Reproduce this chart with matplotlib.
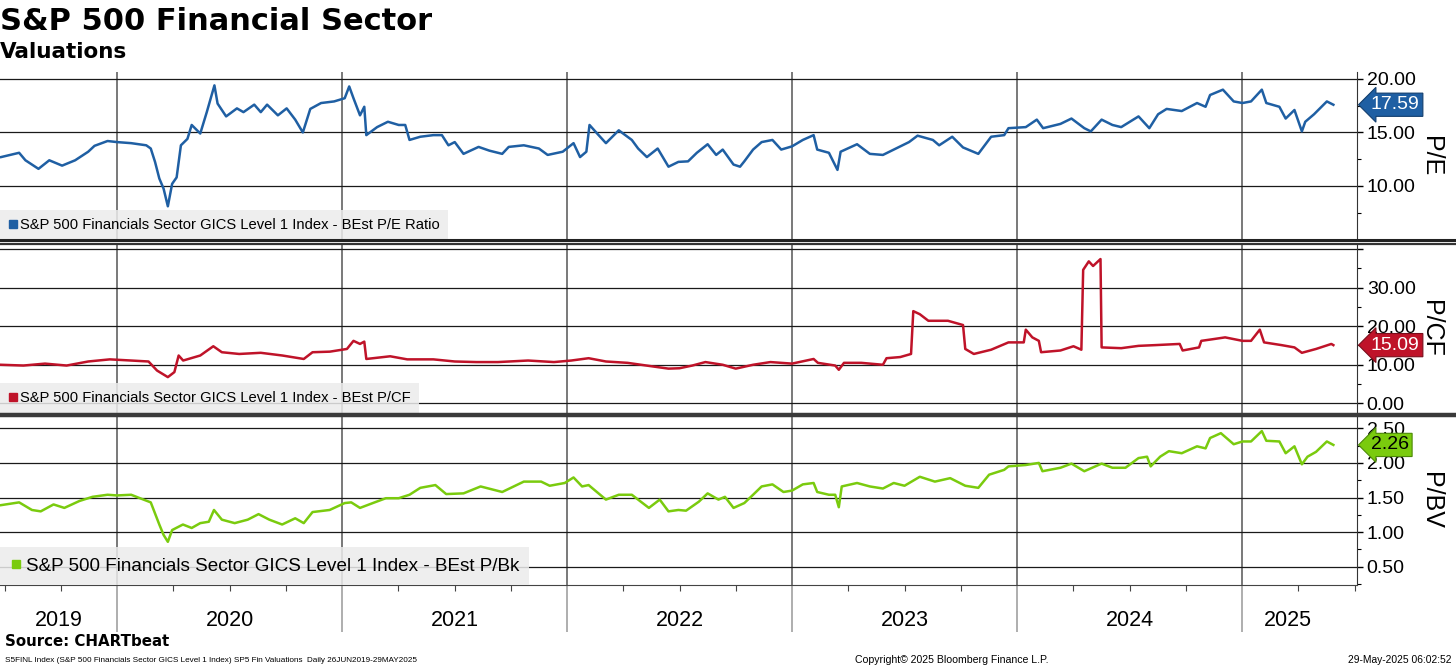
import matplotlib
matplotlib.use('Agg')
import matplotlib.pyplot as plt
import matplotlib.transforms as mtransforms
from matplotlib.lines import Line2D

# Data (decimal years, values)
pe_dates = [2019.485, 2019.565, 2019.593, 2019.651, 2019.699, 2019.756, 2019.814, 2019.872, 2019.900, 2019.958,
            2020.000, 2020.063, 2020.130, 2020.150, 2020.169, 2020.188, 2020.207, 2020.226, 2020.245, 2020.265,
            2020.284, 2020.313, 2020.332, 2020.370, 2020.399, 2020.433, 2020.447, 2020.485, 2020.533, 2020.562,
            2020.610, 2020.639, 2020.667, 2020.715, 2020.754, 2020.792, 2020.826, 2020.859, 2020.907, 2020.965,
            2021.012, 2021.032, 2021.051, 2021.080, 2021.099, 2021.108, 2021.156, 2021.204, 2021.252, 2021.281,
            2021.300, 2021.348, 2021.406, 2021.444, 2021.473, 2021.501, 2021.540, 2021.607, 2021.655, 2021.712,
            2021.741, 2021.808, 2021.875, 2021.914, 2021.981, 2022.029, 2022.058, 2022.086, 2022.100, 2022.134,
            2022.173, 2022.230, 2022.288, 2022.316, 2022.355, 2022.403, 2022.451, 2022.495, 2022.538, 2022.577,
            2022.625, 2022.663, 2022.692, 2022.740, 2022.769, 2022.788, 2022.827, 2022.865, 2022.913, 2022.952,
            2023.000, 2023.048, 2023.096, 2023.112, 2023.164, 2023.202, 2023.216, 2023.289, 2023.346, 2023.404,
            2023.462, 2023.520, 2023.558, 2023.626, 2023.654, 2023.712, 2023.760, 2023.828, 2023.885, 2023.943,
            2023.962, 2024.039, 2024.088, 2024.116, 2024.193, 2024.242, 2024.299, 2024.328, 2024.376, 2024.424,
            2024.463, 2024.540, 2024.588, 2024.627, 2024.665, 2024.732, 2024.800, 2024.838, 2024.858, 2024.915,
            2024.963, 2025.002, 2025.040, 2025.088, 2025.108, 2025.166, 2025.194, 2025.233, 2025.266, 2025.281,
            2025.320, 2025.377, 2025.406]
pe_values = [12.7, 13.1, 12.4, 11.6, 12.4, 11.9, 12.4, 13.2, 13.75, 14.2,
             14.1, 14.0, 13.8, 13.5, 12.25, 10.7, 9.75, 8.1, 10.2, 10.8,
             13.8, 14.4, 15.7, 14.9, 16.9, 19.4, 17.7, 16.5, 17.25, 16.9,
             17.6, 16.9, 17.6, 16.6, 17.25, 16.2, 15.0, 17.2, 17.75, 17.9,
             18.2, 19.3, 18.2, 16.6, 17.4, 14.75, 15.5, 16.0, 15.7, 15.7,
             14.3, 14.6, 14.75, 14.75, 13.8, 14.1, 13.0, 13.65, 13.3, 13.0,
             13.65, 13.8, 13.5, 12.9, 13.2, 14.0, 12.7, 13.2, 15.7, 14.9,
             14.0, 15.2, 14.3, 13.5, 12.7, 13.5, 11.8, 12.25, 12.3, 13.1,
             13.9, 12.9, 13.4, 12.0, 11.8, 12.3, 13.4, 14.1, 14.3, 13.4,
             13.7, 14.3, 14.75, 13.4, 13.1, 11.5, 13.2, 13.9, 13.0, 12.9,
             13.5, 14.1, 14.7, 14.3, 13.8, 14.6, 13.6, 13.0, 14.6, 14.75,
             15.4, 15.5, 16.2, 15.4, 15.8, 16.3, 15.4, 15.1, 16.2, 15.7,
             15.5, 16.5, 15.4, 16.7, 17.2, 17.0, 17.75, 17.4, 18.5, 19.0,
             17.9, 17.75, 17.9, 19.0, 17.75, 17.4, 16.3, 17.1, 15.1, 16.0,
             16.7, 17.9, 17.59]

pcf_dates = [2019.485, 2019.584, 2019.680, 2019.776, 2019.872, 2019.968, 2020.063, 2020.140, 2020.178, 2020.226,
             2020.255, 2020.274, 2020.294, 2020.370, 2020.428, 2020.466, 2020.543, 2020.639, 2020.735, 2020.830,
             2020.869, 2020.946, 2021.022, 2021.051, 2021.080, 2021.099, 2021.108, 2021.214, 2021.290, 2021.406,
             2021.501, 2021.597, 2021.693, 2021.827, 2021.942, 2022.019, 2022.096, 2022.173, 2022.269, 2022.365,
             2022.451, 2022.500, 2022.557, 2022.615, 2022.692, 2022.750, 2022.827, 2022.904, 2023.000, 2023.096,
             2023.115, 2023.192, 2023.208, 2023.231, 2023.308, 2023.404, 2023.420, 2023.481, 2023.529, 2023.539,
             2023.568, 2023.606, 2023.693, 2023.760, 2023.770, 2023.808, 2023.885, 2023.962, 2024.030, 2024.039,
             2024.068, 2024.097, 2024.107, 2024.193, 2024.251, 2024.286, 2024.294, 2024.319, 2024.338, 2024.371,
             2024.376, 2024.463, 2024.540, 2024.617, 2024.723, 2024.736, 2024.809, 2024.819, 2024.867, 2024.925,
             2025.002, 2025.040, 2025.079, 2025.098, 2025.175, 2025.233, 2025.266, 2025.329, 2025.397, 2025.406]
pcf_values = [10.0, 9.8, 10.3, 9.8, 10.85, 11.4, 11.1, 10.85, 8.5, 6.8,
              8.1, 12.4, 11.1, 12.4, 14.8, 13.25, 12.8, 13.1, 12.4, 11.5,
              13.25, 13.4, 14.1, 16.2, 15.4, 16.0, 11.5, 12.2, 11.4, 11.4,
              10.85, 10.7, 10.7, 11.1, 10.7, 11.1, 11.7, 10.85, 10.5, 9.7,
              9.0, 9.1, 9.8, 10.7, 10.0, 9.0, 10.0, 10.7, 10.3, 11.5,
              10.5, 9.8, 8.7, 10.5, 10.5, 10.0, 11.7, 12.0, 12.8, 23.9,
              23.1, 21.4, 21.4, 20.3, 14.1, 12.8, 13.9, 15.8, 15.8, 19.1,
              17.1, 16.2, 13.25, 13.7, 14.8, 13.9, 34.6, 36.8, 35.6, 37.4,
              14.5, 14.3, 14.9, 15.1, 15.4, 13.7, 14.5, 16.2, 16.6, 17.1,
              16.2, 16.2, 19.1, 15.8, 15.1, 14.5, 13.1, 14.1, 15.4, 15.09]

pb_dates = [2019.485, 2019.565, 2019.622, 2019.661, 2019.718, 2019.766, 2019.833, 2019.891, 2019.958, 2020.000,
            2020.063, 2020.102, 2020.150, 2020.169, 2020.188, 2020.207, 2020.226, 2020.245, 2020.293, 2020.332,
            2020.370, 2020.408, 2020.431, 2020.466, 2020.523, 2020.581, 2020.629, 2020.677, 2020.734, 2020.792,
            2020.830, 2020.869, 2020.945, 2021.012, 2021.041, 2021.080, 2021.137, 2021.195, 2021.252, 2021.300,
            2021.348, 2021.415, 2021.463, 2021.540, 2021.616, 2021.712, 2021.808, 2021.885, 2021.923, 2021.990,
            2022.029, 2022.067, 2022.096, 2022.173, 2022.230, 2022.288, 2022.364, 2022.412, 2022.451, 2022.495,
            2022.529, 2022.586, 2022.625, 2022.673, 2022.702, 2022.740, 2022.788, 2022.827, 2022.865, 2022.913,
            2022.962, 2023.000, 2023.048, 2023.096, 2023.112, 2023.164, 2023.192, 2023.208, 2023.221, 2023.289,
            2023.346, 2023.404, 2023.452, 2023.500, 2023.568, 2023.635, 2023.703, 2023.770, 2023.828, 2023.876,
            2023.943, 2023.962, 2024.039, 2024.097, 2024.113, 2024.193, 2024.242, 2024.299, 2024.376, 2024.424,
            2024.482, 2024.540, 2024.578, 2024.594, 2024.636, 2024.675, 2024.732, 2024.800, 2024.838, 2024.858,
            2024.906, 2024.963, 2025.002, 2025.040, 2025.088, 2025.108, 2025.166, 2025.194, 2025.233, 2025.266,
            2025.291, 2025.329, 2025.377, 2025.406]
pb_values = [1.39, 1.43, 1.32, 1.30, 1.40, 1.35, 1.45, 1.51, 1.54, 1.53,
             1.54, 1.49, 1.43, 1.27, 1.11, 0.96, 0.86, 1.03, 1.11, 1.06,
             1.13, 1.15, 1.32, 1.18, 1.13, 1.18, 1.26, 1.18, 1.11, 1.20,
             1.13, 1.29, 1.32, 1.42, 1.43, 1.35, 1.42, 1.49, 1.49, 1.54,
             1.64, 1.68, 1.55, 1.56, 1.66, 1.58, 1.73, 1.73, 1.67, 1.71,
             1.79, 1.66, 1.68, 1.47, 1.54, 1.54, 1.35, 1.47, 1.30, 1.32,
             1.31, 1.44, 1.56, 1.47, 1.51, 1.35, 1.42, 1.54, 1.66, 1.69,
             1.58, 1.60, 1.69, 1.71, 1.58, 1.54, 1.54, 1.36, 1.66, 1.71,
             1.66, 1.63, 1.71, 1.67, 1.80, 1.73, 1.78, 1.67, 1.64, 1.83,
             1.90, 1.95, 1.97, 2.00, 1.88, 1.93, 1.99, 1.88, 1.99, 1.93,
             1.93, 2.07, 2.09, 1.95, 2.09, 2.17, 2.14, 2.24, 2.21, 2.36,
             2.43, 2.27, 2.31, 2.31, 2.46, 2.32, 2.31, 2.14, 2.24, 1.98,
             2.09, 2.16, 2.31, 2.26]

years = ['2019', '2020', '2021', '2022', '2023', '2024', '2025']
year_starts = [2020, 2021, 2022, 2023, 2024, 2025]
label_pe = 'S&P 500 Financials Sector GICS Level 1 Index - BEst P/E Ratio'
label_pcf = 'S&P 500 Financials Sector GICS Level 1 Index - BEst P/CF'
label_pb = 'S&P 500 Financials Sector GICS Level 1 Index - BEst P/Bk'

narrow = ['Liberation Sans', 'DejaVu Sans']
W, H = 1456, 668
fig = plt.figure(figsize=(W / 100, H / 100), dpi=100)
x0, x1 = 2019.48, 2025.511


def px_axes(top, bottom, right=1357):
    return fig.add_axes([0, 1 - bottom / H, right / W, (bottom - top) / H])


panels = [
    dict(top=72, bottom=240, x=pe_dates, y=pe_values, color='#1f5fa3', ec='#123e6e', tc='white',
         ylim=(4.95, 20.65), major=[10, 15, 20], labels=['10.00', '15.00', '20.00'], minor=[7.5, 12.5, 17.5],
         ylabel='P/E', leg=label_pe, legsize=10.6),
    dict(top=244, bottom=413, x=pcf_dates, y=pcf_values, color='#bf1329', ec='#7a0c1a', tc='white',
         ylim=(-2.5, 41.3), major=[0, 10, 20, 30, 40], labels=['0.00', '10.00', '20.00', '30.00', ''],
         minor=[5, 15, 25, 35], ylabel='P/CF', leg=label_pcf, legsize=10.6),
    dict(top=416, bottom=585, x=pb_dates, y=pb_values, color='#7acb0e', ec='#4c8a06', tc='black',
         ylim=(0.236, 2.678), major=[0.5, 1.0, 1.5, 2.0, 2.5], labels=['0.50', '1.00', '1.50', '2.00', '2.50'],
         minor=[0.25, 0.75, 1.25, 1.75, 2.25], ylabel='P/BV', leg=label_pb, legsize=13.6),
]

axes = []
for p in panels:
    ax = px_axes(p['top'], p['bottom'])
    ax.plot(p['x'], p['y'], color=p['color'], lw=1.8, zorder=3)
    ax.set_xlim(x0, x1)
    ax.set_ylim(*p['ylim'])
    ax.set_yticks(p['major'], labels=p['labels'])
    ax.set_yticks(p['minor'], minor=True)
    ax.yaxis.tick_right()
    ax.tick_params(axis='y', which='major', direction='out', length=4, width=1, pad=3,
                   labelsize=14, colors='black')
    ax.tick_params(axis='y', which='minor', direction='out', length=3, width=0.8)
    for lbl in ax.get_yticklabels():
        lbl.set_family('Liberation Sans')
    ax.set_xticks(year_starts)
    ax.grid(axis='y', which='major', color='#1a1a1a', lw=0.9, zorder=1)
    ax.grid(axis='x', which='major', color='#555555', lw=1.1, zorder=1)
    for s in ['top', 'left', 'bottom']:
        ax.spines[s].set_visible(False)
    ax.spines['right'].set_color('#333333')
    ax.set_ylabel(p['ylabel'], rotation=270, fontsize=18, family='Liberation Sans', va='center')
    ax.yaxis.set_label_position('right')
    ax.yaxis.set_label_coords(1.0635, 0.5)

    # last value badge
    last = p['y'][-1]
    tr = mtransforms.blended_transform_factory(ax.transAxes, ax.transData)
    ax.text(1.0 + 14 / 1357, last, f'{last:.2f}', transform=tr, ha='left', va='center',
            fontsize=14, family='Liberation Sans', color=p['tc'], clip_on=False, zorder=6,
            bbox=dict(boxstyle='larrow,pad=0.16', fc=p['color'], ec=p['ec'], lw=0.8))

    h = Line2D([], [], marker='s', color=p['color'], ls='none', markersize=6)
    leg = ax.legend([h], [p['leg']], loc='lower left', bbox_to_anchor=(0, 0), borderaxespad=0,
                    frameon=True, fancybox=False, facecolor='#ebebeb', edgecolor='none', framealpha=0.85,
                    handlelength=0.6, handletextpad=0.2, borderpad=0.55,
                    prop=dict(family=narrow, size=p['legsize']))
    leg.set_zorder(5)
    axes.append(ax)

for ax in axes[:2]:
    ax.tick_params(axis='x', which='both', length=0, labelbottom=False)

ax3 = axes[2]
ax3.spines['bottom'].set_visible(True)
ax3.spines['bottom'].set_color('#444444')
quarters = [2019.5, 2019.75, 2020.25, 2020.5, 2020.75, 2021.25, 2021.5, 2021.75, 2022.25, 2022.5, 2022.75,
            2023.25, 2023.5, 2023.75, 2024.25, 2024.5, 2024.75, 2025.25, 2025.5]
ax3.set_xticks(quarters, minor=True)
ax3.tick_params(axis='x', which='major', length=34, width=1.1, color='#999999', labelbottom=False)
ax3.tick_params(axis='x', which='minor', length=4, width=0.8, color='#444444')
year_centers = [(x0 + 2020) / 2, 2020.5, 2021.5, 2022.5, 2023.5, 2024.5, (2025 + pe_dates[-1]) / 2]
trx = mtransforms.blended_transform_factory(ax3.transData, ax3.transAxes)
for c, yr in zip(year_centers, years):
    ax3.text(c, -35 / 169, yr, transform=trx, ha='center', va='center', fontsize=15.5, family=narrow)

# panel separators across the full width
for y, lw, col in [(240.5, 2.2, '#222222'), (243.5, 1.6, '#333333'), (414.5, 3.2, '#3a3a3a')]:
    fig.add_artist(Line2D([0, 1], [1 - y / H, 1 - y / H], transform=fig.transFigure, lw=lw, color=col))

# titles and footer
fig.text(0, 1 - 21 / H, 'S&P 500 Financial Sector', fontsize=22, fontweight='bold', va='center', ha='left')
fig.text(0, 1 - 52 / H, 'Valuations', fontsize=15.5, fontweight='bold', va='center', ha='left')
fig.text(5 / W, 1 - 642 / H, 'Source: CHARTbeat', fontsize=10.8, fontweight='bold', va='center', ha='left')
fig.text(5 / W, 1 - 660 / H, 'S5FINL Index (S&P 500 Financials Sector GICS Level 1 Index) SP5 Fin Valuations  '
         'Daily 26JUN2019-29MAY2025', fontsize=5.9, family=narrow, va='center', ha='left')
fig.text(952 / W, 1 - 660 / H, 'Copyright\u00a9 2025 Bloomberg Finance L.P.', fontsize=7.6, family=narrow,
         va='center', ha='center')
fig.text(1452 / W, 1 - 660 / H, '29-May-2025 06:02:52', fontsize=7.4, family=narrow, va='center', ha='right')

fig.savefig('out.png', dpi=100)
